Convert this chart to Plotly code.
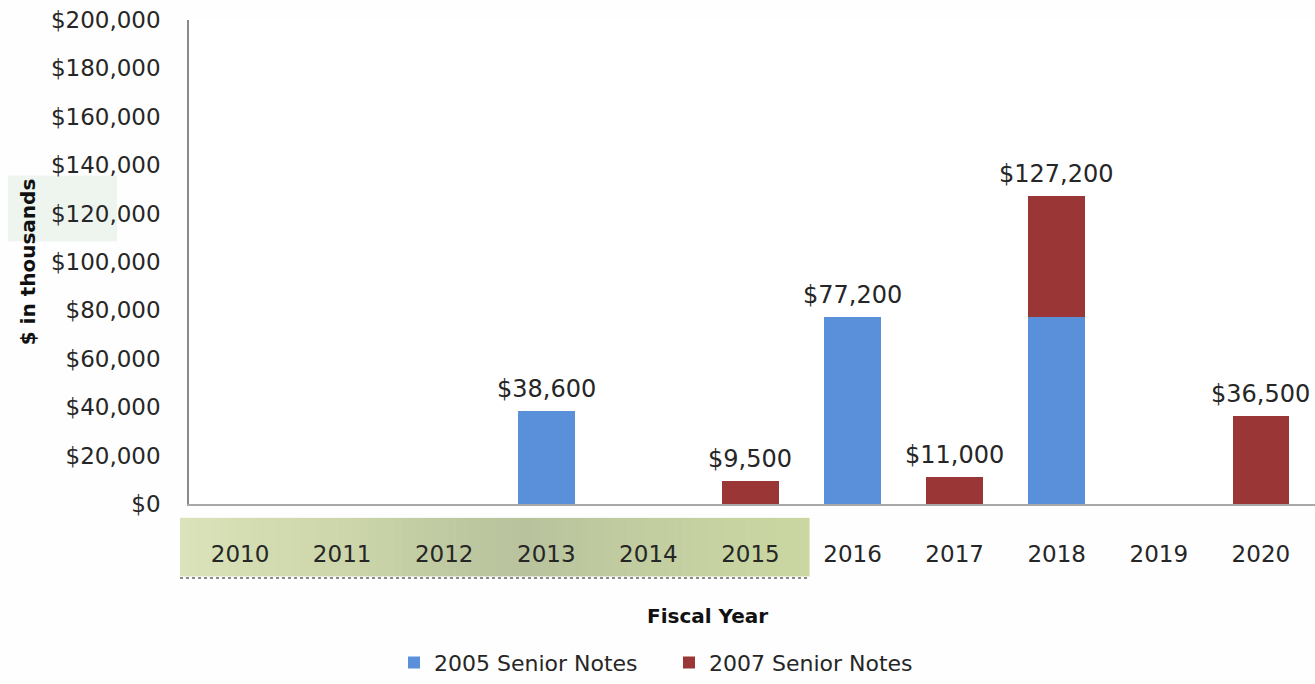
import plotly.graph_objects as go

# Fiscal years on the category axis
years = ["2010", "2011", "2012", "2013", "2014", "2015",
         "2016", "2017", "2018", "2019", "2020"]

# Principal due by fiscal year, $ in thousands
notes_2005 = [0, 0, 0, 38600, 0, 0, 77200, 0, 77200, 0, 0]
notes_2007 = [0, 0, 0, 0, 0, 9500, 0, 11000, 50000, 0, 36500]

series_names = ["2005 Senior Notes", "2007 Senior Notes"]

y_ticks = [0, 20000, 40000, 60000, 80000, 100000, 120000,
           140000, 160000, 180000, 200000]

BLUE = "#5a8fda"
RED = "#9b3636"
FONT = "DejaVu Sans"
TEXT = "#262626"

W, H = 1315, 684
ML, MR, MT, MB = 189, 0, 20, 176
PW = W - ML - MR
PH = H - MT - MB


def px_x(px):
    return (px - ML) / PW


def px_y(px):
    return (H - MB - px) / PH


fig = go.Figure()
fig.add_trace(go.Bar(
    x=years, y=[v if v else None for v in notes_2005], name=series_names[0],
    marker=dict(color=BLUE, line=dict(width=0)),
))
fig.add_trace(go.Bar(
    x=years, y=[v if v else None for v in notes_2007], name=series_names[1],
    marker=dict(color=RED, line=dict(width=0)),
))

# Total labels above each stack (category axis positions are serial indices)
annotations = []
for i, (a, b) in enumerate(zip(notes_2005, notes_2007)):
    total = a + b
    if total > 0:
        annotations.append(dict(
            x=i, y=total, xref="x", yref="y", text=f"${total:,}",
            showarrow=False, yanchor="bottom", yshift=6,
            font=dict(family=FONT, size=24, color=TEXT),
        ))

annotations.append(dict(
    x=px_x(707), y=px_y(621), xref="paper", yref="paper",
    text="<b>Fiscal Year</b>", showarrow=False,
    xanchor="center", yanchor="middle",
    font=dict(family=FONT, size=20, color="#111"),
))

# Shaded band behind the first six year labels
stops = [(0.0, (0xdb, 0xe3, 0xbb)), (0.12, (0xd3, 0xdd, 0xb1)),
         (0.28, (0xcb, 0xd5, 0xa9)), (0.45, (0xbd, 0xc8, 0xa0)),
         (0.55, (0xb8, 0xc3, 0x9e)), (0.7, (0xc0, 0xcb, 0xa0)),
         (0.85, (0xc6, 0xd2, 0xa1)), (1.0, (0xcb, 0xd7, 0xa1))]


def band_color(t):
    for (t0, c0), (t1, c1) in zip(stops, stops[1:]):
        if t0 <= t <= t1:
            f = (t - t0) / (t1 - t0)
            c = [round(c0[i] + (c1[i] - c0[i]) * f) for i in range(3)]
            return "rgb({},{},{})".format(*c)
    return "rgb({},{},{})".format(*stops[-1][1])


shapes = []
band_l, band_r, band_t, band_b = 180, 809, 522, 581
n = 80
for i in range(n):
    x0 = band_l + (band_r - band_l) * i / n
    x1 = band_l + (band_r - band_l) * (i + 1) / n + 0.6
    shapes.append(dict(
        type="rect", xref="paper", yref="paper", layer="below",
        x0=px_x(x0), x1=px_x(x1), y0=px_y(band_b), y1=px_y(band_t),
        fillcolor=band_color((i + 0.5) / n), line=dict(width=0),
    ))
shapes.append(dict(
    type="line", xref="paper", yref="paper", layer="below",
    x0=px_x(band_l), x1=px_x(band_r), y0=px_y(582.5), y1=px_y(582.5),
    line=dict(color="#8a8a8a", width=2, dash="dot"),
))
# faint panel behind the axis title
shapes.append(dict(
    type="rect", xref="paper", yref="paper", layer="below",
    x0=px_x(8), x1=px_x(117), y0=px_y(243), y1=px_y(177),
    fillcolor="#eef4ee", line=dict(width=0),
))

fig.update_layout(
    width=W, height=H,
    margin=dict(l=ML, r=MR, t=MT, b=MB, pad=0),
    barmode="stack", bargap=0.445,
    paper_bgcolor="#fdfefd", plot_bgcolor="#ffffff",
    font=dict(family=FONT, size=23, color=TEXT),
    showlegend=True,
    legend=dict(
        orientation="h", x=px_x(394), y=px_y(668),
        xanchor="left", yanchor="middle",
        entrywidth=230, entrywidthmode="pixels",
        font=dict(family=FONT, size=22, color=TEXT),
        bgcolor="rgba(0,0,0,0)", traceorder="normal",
        itemclick=False, itemdoubleclick=False,
    ),
    xaxis=dict(
        type="category", range=[-0.5, 10.53],
        showline=True, linecolor="#a8a8a8", linewidth=1.5,
        showgrid=False, ticks="", ticklabelstandoff=29,
        tickfont=dict(family=FONT, size=23, color=TEXT),
        zeroline=False, fixedrange=True,
    ),
    yaxis=dict(
        range=[0, 200000], tickvals=y_ticks,
        ticktext=[f"${v:,}" for v in y_ticks],
        showline=True, linecolor="#8a8a8a", linewidth=1.5,
        showgrid=False, zeroline=False, ticks="",
        ticklabelstandoff=22,
        tickfont=dict(family=FONT, size=23, color=TEXT),
        title=dict(text="<b>$ in thousands</b>", standoff=10,
                   font=dict(family=FONT, size=20, color="#111")),
        fixedrange=True,
    ),
    annotations=annotations,
    shapes=shapes,
)

fig.write_html("out.html", config={"displayModeBar": False})
